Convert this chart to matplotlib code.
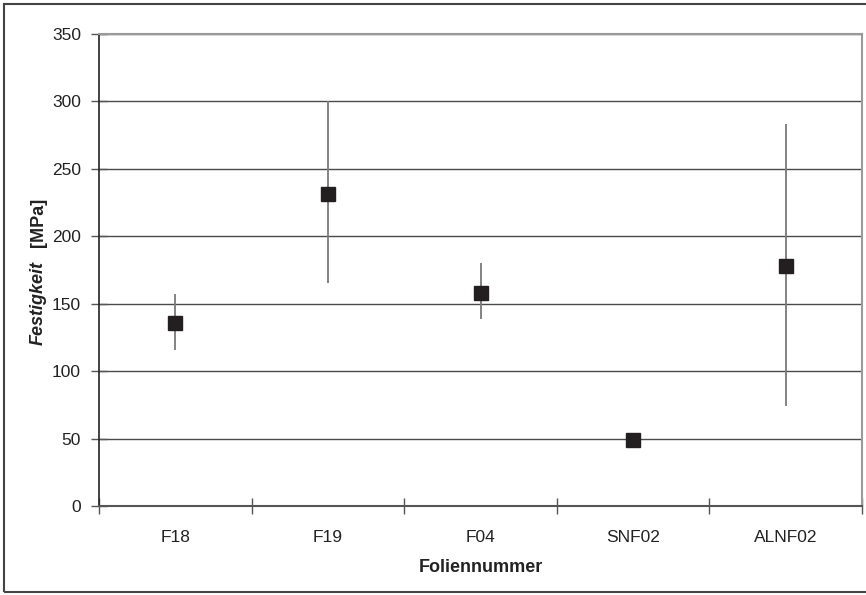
import numpy as np
import matplotlib.pyplot as plt
from matplotlib.patches import Rectangle
from matplotlib.ticker import FixedLocator, NullFormatter

plt.rcParams['font.family'] = ['Liberation Sans', 'DejaVu Sans']

# --- data ---
categories = ['F18', 'F19', 'F04', 'SNF02', 'ALNF02']
strength = [136, 231, 158, 49, 178]
err_low = [115.5, 165, 139, 46, 74.5]
err_high = [157, 300, 180, 54, 283]

fig = plt.figure(figsize=(8.66, 5.95), dpi=100)
ax = fig.add_axes([99 / 866, 89 / 595, 763 / 866, 472 / 595])

x = np.arange(len(categories))
yerr = [np.array(strength) - np.array(err_low), np.array(err_high) - np.array(strength)]
ax.errorbar(x, strength, yerr=yerr, fmt='none', ecolor='#7a7a7a', elinewidth=1.3,
            capsize=0, zorder=3)
ax.plot(x, strength, linestyle='none', marker='s', markersize=9.5,
        color='#231f20', zorder=4)

ax.set_xlim(-0.5, len(categories) - 0.5)
ax.set_ylim(0, 350)
ax.set_yticks(np.arange(0, 351, 50))
ax.yaxis.grid(True, color='#4a4a4a', linewidth=1)
ax.set_axisbelow(True)

# category boundaries as ticks, labels at centres
ax.xaxis.set_major_locator(FixedLocator(np.arange(-0.5, len(categories), 1.0)))
ax.xaxis.set_major_formatter(NullFormatter())
ax.xaxis.set_minor_locator(FixedLocator(x))
ax.set_xticklabels(categories, minor=True)
ax.tick_params(axis='x', which='major', direction='inout', length=12, width=1, color='#555555')
ax.tick_params(axis='x', which='minor', length=0, pad=17, labelsize=12.5, labelcolor='#222222')
ax.tick_params(axis='y', direction='inout', length=12, width=1, color='#555555',
               pad=7, labelsize=12.5, labelcolor='#222222')

for side in ['top', 'right']:
    ax.spines[side].set_color('#9a9a9a')
    ax.spines[side].set_linewidth(1.5)
ax.spines['left'].set_color('#222222')
ax.spines['bottom'].set_color('#555555')
ax.spines['left'].set_linewidth(1.2)
ax.spines['bottom'].set_linewidth(1.5)

ax.set_xlabel('Foliennummer', fontsize=13, fontweight='bold', color='#222222', labelpad=10)

# y label: italic name plus unit
fig.text(38 / 866, (595 - 345) / 595, 'Festigkeit', rotation=90, ha='center', va='bottom',
         fontsize=13, fontweight='bold', fontstyle='italic', color='#222222')
fig.text(38 / 866, (595 - 247) / 595, '[MPa]', rotation=90, ha='center', va='bottom',
         fontsize=13, fontweight='bold', color='#222222')

# outer chart frame
fig.patches.append(Rectangle((4 / 866, 3 / 595), 1.0, 588 / 595, transform=fig.transFigure,
                             fill=False, edgecolor='#444444', linewidth=1.5))

fig.savefig('out.png', dpi=100)
